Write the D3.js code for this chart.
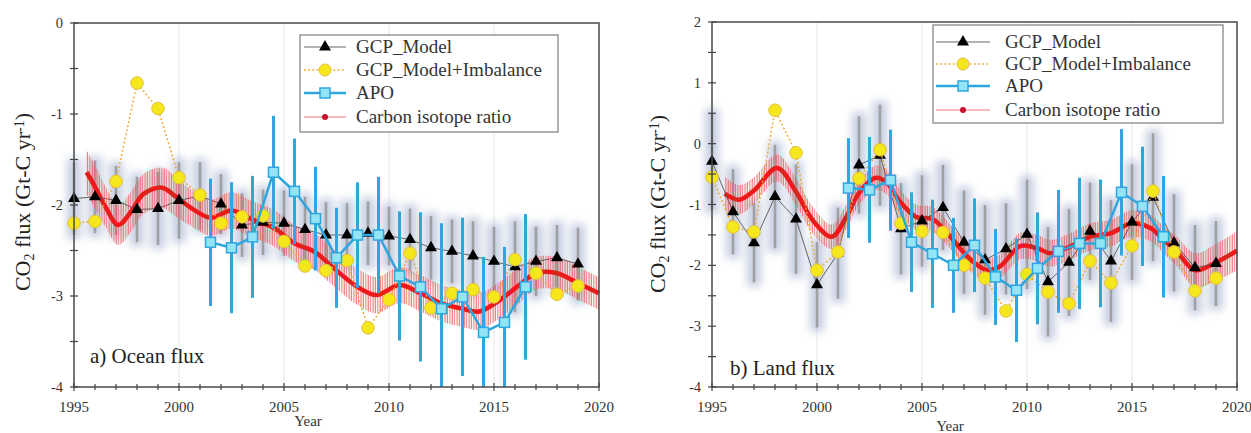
<!DOCTYPE html>
<html>
<head>
<meta charset="utf-8">
<script src="https://cdnjs.cloudflare.com/ajax/libs/d3/7.8.5/d3.min.js"></script>
<style>
  body { margin: 0; background: #fff; }
  svg, svg text { font-family: "Liberation Serif", "DejaVu Serif", serif; }
</style>
</head>
<body>
<svg id="chart" width="1251" height="433"></svg>
<script>
// ---- data ----
const gcpYears = [1995, 1996, 1997, 1998, 1999, 2000, 2001, 2002, 2003, 2004, 2005, 2006, 2007,
                  2008, 2009, 2010, 2011, 2012, 2013, 2014, 2015, 2016, 2017, 2018, 2019];
const apoYears = [2001.5, 2002.5, 2003.5, 2004.5, 2005.5, 2006.5, 2007.5, 2008.5,
                  2009.5, 2010.5, 2011.5, 2012.5, 2013.5, 2014.5, 2015.5, 2016.5];

// a) ocean
const oceanGcp = [-1.93, -1.91, -1.95, -2.05, -2.04, -1.95, -1.90, -1.99, -2.22, -2.19, -2.20, -2.27, -2.33,
                  -2.33, -2.31, -2.34, -2.38, -2.47, -2.51, -2.56, -2.62, -2.68, -2.62, -2.58, -2.65];
const oceanGcpErr = [0.40, 0.40, 0.38, 0.36, 0.40, 0.42, 0.37, 0.33, 0.35, 0.36, 0.36, 0.36, 0.36,
                     0.35, 0.35, 0.32, 0.34, 0.35, 0.35, 0.38, 0.38, 0.50, 0.38, 0.36, 0.40];
const oceanImb = [-2.20, -2.18, -1.74, -0.66, -0.94, -1.70, -1.89, -2.20, -2.13, -2.12, -2.40, -2.67, -2.72,
                  -2.61, -3.35, -3.04, -2.53, -3.13, -2.97, -2.93, -3.01, -2.60, -2.75, -2.98, -2.89];
const oceanApo = [-2.41, -2.47, -2.35, -1.64, -1.85, -2.15, -2.58, -2.33,
                  -2.33, -2.78, -2.90, -3.14, -3.01, -3.40, -3.29, -2.90];
const oceanApoErr = [0.70, 0.72, 0.67, 0.62, 0.58, 0.57, 0.55, 0.58,
                     0.64, 0.71, 0.82, 0.94, 0.87, 0.83, 0.83, 0.80];
const oceanIsoYears = [1995.6, 1996.0, 1996.5, 1997.1, 1997.7, 1998.3, 1999.2, 1999.8, 2000.5, 2001.5,
                       2002.5, 2003.5, 2004.5, 2005.5, 2006.5, 2007.2, 2008.5, 2009.4, 2010.5, 2011.5,
                       2012.5, 2013.5, 2014.3, 2015.3, 2016.2, 2017.0, 2018.0, 2019.0, 2020.0];
const oceanIso = [-1.64, -1.80, -2.02, -2.22, -2.08, -1.88, -1.81, -1.90, -2.02, -2.14,
                  -2.06, -2.16, -2.25, -2.42, -2.52, -2.66, -2.90, -2.99, -2.88, -2.97,
                  -3.08, -3.14, -3.17, -3.04, -2.88, -2.75, -2.75, -2.86, -2.97];
const oceanIsoErr = [0.24, 0.24, 0.22, 0.22, 0.22, 0.22, 0.22, 0.22, 0.20, 0.20,
                     0.20, 0.20, 0.20, 0.20, 0.20, 0.20, 0.20, 0.20, 0.20, 0.20,
                     0.20, 0.20, 0.20, 0.20, 0.20, 0.18, 0.18, 0.18, 0.18];

// b) land
const landGcp = [-0.29, -1.12, -1.63, -0.87, -1.24, -2.32, -1.80, -0.35, -0.19, -1.40, -1.27, -1.05, -1.62,
                 -1.91, -1.73, -1.49, -2.27, -1.95, -1.44, -1.93, -1.29, -0.88, -1.63, -2.04, -1.97];
const landGcpErr = [0.80, 0.70, 0.65, 0.85, 0.90, 0.70, 0.75, 0.80, 0.83, 0.75, 0.75, 0.70, 0.85,
                    0.90, 0.75, 0.90, 0.90, 0.88, 0.80, 1.00, 0.95, 1.05, 0.80, 0.70, 0.70];
const landImb = [-0.55, -1.37, -1.45, 0.55, -0.15, -2.08, -1.78, -0.57, -0.10, -1.31, -1.44, -1.46, -2.00,
                 -2.21, -2.75, -2.15, -2.44, -2.63, -1.93, -2.29, -1.68, -0.78, -1.78, -2.42, -2.21];
const landApo = [-0.73, -0.76, -0.60, -1.62, -1.81, -2.00, -1.67, -2.19,
                 -2.41, -2.05, -1.77, -1.64, -1.64, -0.80, -1.03, -1.53];
const landApoErr = [0.82, 0.87, 0.83, 0.82, 0.89, 0.78, 0.77, 0.79,
                    0.85, 0.92, 1.01, 1.08, 1.05, 1.04, 0.98, 1.00];
const landIsoYears = [1995.6, 1996.3, 1997.0, 1998.1, 1999.0, 1999.8, 2000.7, 2001.4, 2002.0, 2002.8,
                      2003.3, 2003.9, 2004.7, 2005.5, 2006.2, 2007.3, 2008.1, 2008.7, 2009.7, 2010.5,
                      2011.1, 2012.0, 2013.0, 2014.0, 2015.0, 2015.9, 2016.5, 2017.1, 2018.0, 2018.9, 2020.0];
const landIso = [-0.82, -0.92, -0.77, -0.40, -0.79, -1.26, -1.53, -1.20, -0.81, -0.56,
                 -0.63, -0.93, -1.20, -1.24, -1.47, -1.90, -2.08, -2.02, -1.68, -1.72,
                 -1.80, -1.70, -1.53, -1.47, -1.31, -1.39, -1.58, -1.76, -2.08, -1.97, -1.76];
const landIsoErr = [0.28, 0.24, 0.22, 0.22, 0.22, 0.22, 0.20, 0.20, 0.20, 0.20,
                    0.20, 0.20, 0.20, 0.20, 0.20, 0.20, 0.20, 0.20, 0.22, 0.22,
                    0.22, 0.22, 0.22, 0.22, 0.22, 0.22, 0.22, 0.24, 0.28, 0.30, 0.32];

const legendNames = ['GCP_Model', 'GCP_Model+Imbalance', 'APO', 'Carbon isotope ratio'];
const xTickYears = [1995, 2000, 2005, 2010, 2015, 2020];
const gridYears = [2000, 2005, 2010, 2015];

// ---- colours ----
const colGcp = '#555';
const colImbLine = '#f0a42a';
const colImbFill = '#f6e61c';
const colApo = '#2fa6df';
const colApoFill = '#93e4f4';
const colIso = '#ec1b1b';

let svg = d3.select('#chart').attr('font-family', '"Liberation Serif", "DejaVu Serif", serif');
svg.append('rect').attr('width', 1251).attr('height', 433).attr('fill', '#fff');

let defs = svg.append('defs');
let hatch = defs.append('pattern').attr('id', 'hatch')
  .attr('patternUnits', 'userSpaceOnUse').attr('width', 2.4).attr('height', 10);
hatch.append('line').attr('x1', 1).attr('x2', 1).attr('y1', 0).attr('y2', 10)
  .attr('stroke', '#ee5555').attr('stroke-width', 1);
defs.append('filter').attr('id', 'halo').attr('x', '-200%').attr('width', '500%')
  .attr('y', '-50%').attr('height', '200%')
  .append('feGaussianBlur').attr('stdDeviation', 4.5);

function drawPanel(p) {
  let x = d3.scaleLinear().domain([1995, 2020]).range([p.left, p.right]);
  let y = d3.scaleLinear().domain(p.yDomain).range([p.bottom, p.top]);
  let g = svg.append('g');

  // light vertical grid
  g.selectAll('.grid').data(gridYears).enter().append('line')
    .attr('x1', d => x(d)).attr('x2', d => x(d))
    .attr('y1', p.top).attr('y2', p.bottom)
    .attr('stroke', '#e4e6ee').attr('stroke-width', 1);

  let gcp = gcpYears.map((yr, i) => ({yr: yr, v: p.gcp[i], e: p.gcpErr[i], imb: p.imb[i]}));
  let apo = apoYears.map((yr, i) => ({yr: yr, v: p.apo[i], e: p.apoErr[i]}));
  let iso = p.isoYears.map((yr, i) => ({yr: yr, v: p.iso[i], e: p.isoErr[i]}));

  // blurry halo + grey error bars for GCP model
  g.append('g').attr('filter', 'url(#halo)').selectAll('rect').data(gcp).enter().append('rect')
    .attr('x', d => x(d.yr) - 7).attr('width', 14)
    .attr('y', d => y(d.v + d.e) - 4).attr('height', d => y(d.v - d.e) - y(d.v + d.e) + 8)
    .attr('fill', '#98a6c6').attr('opacity', 0.55);
  g.selectAll('.gcp-err').data(gcp).enter().append('line')
    .attr('x1', d => x(d.yr)).attr('x2', d => x(d.yr))
    .attr('y1', d => y(d.v + d.e)).attr('y2', d => y(d.v - d.e))
    .attr('stroke', '#a0a0a4').attr('stroke-width', 2.6);

  // carbon isotope ratio: hatched band + thick line
  let band = d3.area().curve(d3.curveCatmullRom)
    .x(d => x(d.yr)).y0(d => y(d.v - d.e)).y1(d => y(d.v + d.e));
  g.append('path').datum(iso).attr('d', band).attr('fill', 'url(#hatch)').attr('opacity', 0.9);
  let isoLine = d3.line().curve(d3.curveCatmullRom).x(d => x(d.yr)).y(d => y(d.v));
  g.append('path').datum(iso).attr('d', isoLine)
    .attr('fill', 'none').attr('stroke', colIso).attr('stroke-width', 4.5);

  // GCP model line + triangles
  let gLine = d3.line().x(d => x(d.yr)).y(d => y(d.v));
  g.append('path').datum(gcp).attr('d', gLine)
    .attr('fill', 'none').attr('stroke', colGcp).attr('stroke-width', 0.9);
  let tri = d3.symbol().type(d3.symbolTriangle).size(62);
  g.selectAll('.tri').data(gcp).enter().append('path')
    .attr('d', tri).attr('transform', d => 'translate(' + x(d.yr) + ',' + y(d.v) + ')')
    .attr('fill', '#000');

  // GCP + imbalance dotted line + yellow circles
  let iLine = d3.line().x(d => x(d.yr)).y(d => y(d.imb));
  g.append('path').datum(gcp).attr('d', iLine)
    .attr('fill', 'none').attr('stroke', colImbLine).attr('stroke-width', 1.5)
    .attr('stroke-dasharray', '1.8,2.4');
  g.selectAll('.imb').data(gcp).enter().append('circle')
    .attr('cx', d => x(d.yr)).attr('cy', d => y(d.imb)).attr('r', 6.3)
    .attr('fill', colImbFill).attr('stroke', '#e2c040').attr('stroke-width', 1);

  // APO with error bars
  g.selectAll('.apo-err').data(apo).enter().append('line')
    .attr('x1', d => x(d.yr)).attr('x2', d => x(d.yr))
    .attr('y1', d => y(d.v + d.e)).attr('y2', d => Math.min(y(d.v - d.e), p.bottom))
    .attr('stroke', colApo).attr('stroke-width', 3);
  g.append('path').datum(apo).attr('d', gLine)
    .attr('fill', 'none').attr('stroke', colApo).attr('stroke-width', 2.5);
  g.selectAll('.apo').data(apo).enter().append('rect')
    .attr('x', d => x(d.yr) - 5).attr('y', d => y(d.v) - 5)
    .attr('width', 10).attr('height', 10)
    .attr('fill', colApoFill).attr('stroke', colApo).attr('stroke-width', 1.5);

  // frame
  g.append('rect').attr('x', p.left).attr('y', p.top)
    .attr('width', p.right - p.left).attr('height', p.bottom - p.top)
    .attr('fill', 'none').attr('stroke', '#4a4a4a').attr('stroke-width', 1.5);

  // x ticks (every year, crossing the axis) and labels
  let allYears = [];
  for (let yr = 1995; yr <= 2020; yr++) allYears.push(yr);
  g.selectAll('.xt').data(allYears).enter().append('line')
    .attr('x1', d => x(d)).attr('x2', d => x(d))
    .attr('y1', d => p.bottom - (d % 5 == 0 ? 4 : 3)).attr('y2', d => p.bottom + (d % 5 == 0 ? 4 : 3))
    .attr('stroke', '#444').attr('stroke-width', 1.2);
  g.selectAll('.xl').data(xTickYears).enter().append('text')
    .attr('x', d => x(d)).attr('y', p.bottom + 25)
    .attr('text-anchor', 'middle').attr('font-size', 15).attr('fill', '#333')
    .text(d => d);

  // y ticks
  let yVals = [];
  for (let v = p.yDomain[0]; v <= p.yDomain[1]; v += 0.5) yVals.push(v);
  g.selectAll('.yt').data(yVals).enter().append('line')
    .attr('x1', d => p.left - 4).attr('x2', d => p.left + 4)
    .attr('y1', d => y(d)).attr('y2', d => y(d))
    .attr('stroke', '#444').attr('stroke-width', 1.2);
  g.selectAll('.yl').data(yVals.filter(v => v % 1 == 0)).enter().append('text')
    .attr('x', p.left - 11).attr('y', d => y(d) + 5)
    .attr('text-anchor', 'end').attr('font-size', 14.5).attr('fill', '#333')
    .text(d => d);

  // axis titles
  g.append('text').attr('x', p.yearX).attr('y', p.yearY)
    .attr('text-anchor', 'middle').attr('font-size', 15).attr('fill', '#333').text('Year');
  let yl = g.append('text')
    .attr('transform', 'translate(' + p.labelX + ',' + p.labelY + ') rotate(-90)')
    .attr('text-anchor', 'middle').attr('font-size', 22).attr('fill', '#222');
  yl.append('tspan').text('CO');
  yl.append('tspan').attr('font-size', 14).attr('baseline-shift', '-25%').text('2');
  yl.append('tspan').text(' flux (Gt-C yr');
  yl.append('tspan').attr('font-size', 14).attr('baseline-shift', '45%').text('-1');
  yl.append('tspan').text(')');

  g.append('text').attr('x', p.tagX).attr('y', p.tagY)
    .attr('font-size', 21).attr('fill', '#222').text(p.tag);

  // legend
  let L = p.legend;
  let lg = g.append('g');
  lg.append('rect').attr('x', L.x).attr('y', L.y).attr('width', L.w).attr('height', L.h)
    .attr('fill', '#fff').attr('stroke', '#888').attr('stroke-width', 1.3);
  let mid = (L.s1 + L.s2) / 2;
  legendNames.forEach((name, i) => {
    let ry = L.rows[i];
    let ln = lg.append('line').attr('x1', L.s1).attr('x2', L.s2).attr('y1', ry).attr('y2', ry);
    if (i == 0) {
      ln.attr('stroke', colGcp).attr('stroke-width', 0.9);
      lg.append('path').attr('d', tri).attr('transform', 'translate(' + mid + ',' + ry + ')').attr('fill', '#000');
    } else if (i == 1) {
      ln.attr('stroke', colImbLine).attr('stroke-width', 1.5).attr('stroke-dasharray', '1.8,2.4');
      lg.append('circle').attr('cx', mid).attr('cy', ry).attr('r', 6)
        .attr('fill', colImbFill).attr('stroke', '#e2c040');
    } else if (i == 2) {
      ln.attr('stroke', colApo).attr('stroke-width', 2.5);
      lg.append('rect').attr('x', mid - 5).attr('y', ry - 5).attr('width', 10).attr('height', 10)
        .attr('fill', colApoFill).attr('stroke', colApo).attr('stroke-width', 1.5);
    } else {
      ln.attr('stroke', '#f07878').attr('stroke-width', 1);
      lg.append('circle').attr('cx', mid).attr('cy', ry).attr('r', 3).attr('fill', '#c8102e');
    }
    lg.append('text').attr('x', L.tx).attr('y', ry + 6)
      .attr('font-size', 19).attr('fill', '#333').text(name);
  });
}

drawPanel({
  left: 74, right: 599, top: 23, bottom: 387, yDomain: [-4, 0],
  gcp: oceanGcp, gcpErr: oceanGcpErr, imb: oceanImb,
  apo: oceanApo, apoErr: oceanApoErr,
  isoYears: oceanIsoYears, iso: oceanIso, isoErr: oceanIsoErr,
  yearX: 308, yearY: 426, labelX: 30, labelY: 202,
  tag: 'a) Ocean flux', tagX: 90, tagY: 363,
  legend: {x: 300, y: 35, w: 258, h: 97, s1: 304, s2: 346, tx: 356, rows: [47, 70, 93, 117]}
});

drawPanel({
  left: 712, right: 1237, top: 22, bottom: 387, yDomain: [-4, 2],
  gcp: landGcp, gcpErr: landGcpErr, imb: landImb,
  apo: landApo, apoErr: landApoErr,
  isoYears: landIsoYears, iso: landIso, isoErr: landIsoErr,
  yearX: 950, yearY: 431, labelX: 665, labelY: 204,
  tag: 'b) Land flux', tagX: 730, tagY: 375,
  legend: {x: 933, y: 25, w: 290, h: 98, s1: 936, s2: 990, tx: 1005, rows: [42, 64, 86, 110]}
});
</script>
</body>
</html>
